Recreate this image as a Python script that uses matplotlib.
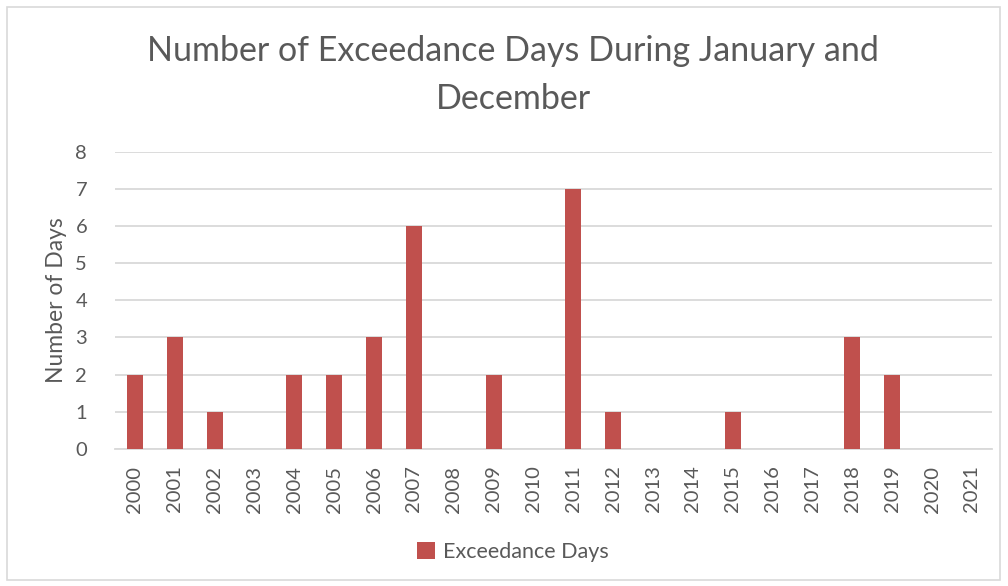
import matplotlib.pyplot as plt
from matplotlib.patches import Rectangle

years = [str(y) for y in range(2000, 2022)]
days = [2, 3, 1, 0, 2, 2, 3, 6, 0, 2, 0, 7, 1, 0, 0, 1, 0, 0, 3, 2, 0, 0]

txt = "#595959"
plt.rcParams['font.family'] = ['Lato', 'DejaVu Sans']

fig = plt.figure(figsize=(10.08, 5.86), dpi=100)
ax = fig.add_axes([0.114, 0.234, 0.870, 0.507])

x = range(len(years))
ax.bar(x, days, width=0.4, color="#C0504D", label="Exceedance Days", zorder=3)

ax.set_xlim(-0.5, len(years) - 0.5)
ax.set_ylim(0, 8)
ax.set_yticks(range(0, 9))
ax.set_xticks(list(x))
ax.set_xticklabels(years, rotation=90)
ax.tick_params(axis="both", length=0, colors=txt, labelsize=14.5)
ax.tick_params(axis="y", pad=20)
ax.tick_params(axis="x", pad=12)
ax.grid(axis="y", color="#d9d9d9", linewidth=1.3, zorder=0)
for s in ["top", "right", "left"]:
    ax.spines[s].set_visible(False)
ax.spines["bottom"].set_color("#d9d9d9")
ax.spines["bottom"].set_linewidth(1.3)

ax.set_ylabel("Number of Days", fontsize=16.5, color=txt, labelpad=6)

fig.text(0.509, 0.913, "Number of Exceedance Days During January and",
         ha="center", va="center", fontsize=24.5, color=txt)
fig.text(0.509, 0.831, "December", ha="center", va="center", fontsize=24.5, color=txt)

fig.legend(loc="center", bbox_to_anchor=(0.509, 0.058), frameon=False,
           fontsize=15.5, labelcolor=txt, handlelength=0.8, handleheight=0.8,
           handletextpad=0.4)

fig.patches.append(Rectangle((0.007, 0.01), 0.985, 0.978, transform=fig.transFigure,
                             fill=False, edgecolor="#d9d9d9", linewidth=1.2))

fig.savefig("out.png", dpi=100)
